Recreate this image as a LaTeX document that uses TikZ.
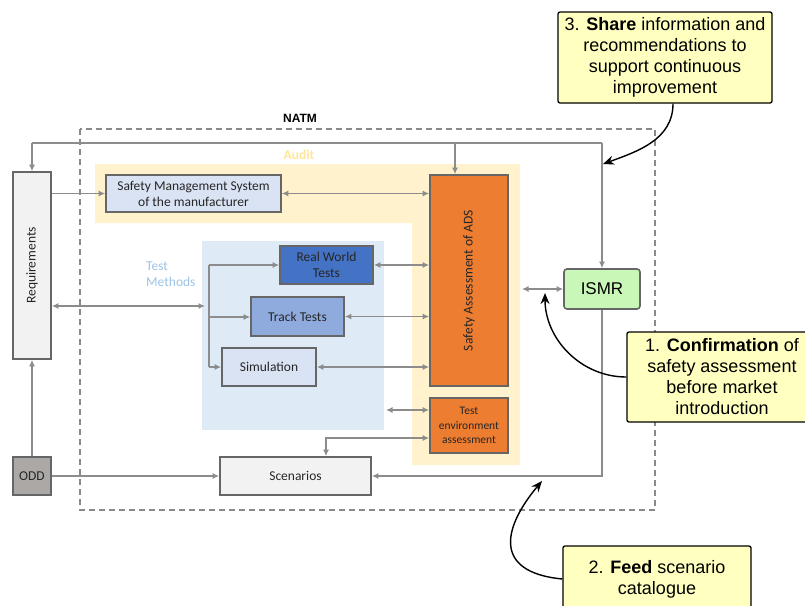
\documentclass[tikz,border=0pt]{standalone}
\usepackage{fontspec}
\usepackage{graphicx}
\setmainfont{Carlito}
\newfontfamily\helv{Liberation Sans}
\usetikzlibrary{arrows.meta}
\definecolor{bordergray}{HTML}{666666}
\definecolor{conngray}{HTML}{8C8C8C}
\definecolor{txt}{HTML}{262626}
\definecolor{reqfill}{HTML}{F2F2F2}
\definecolor{oddfill}{HTML}{ABA8A6}
\definecolor{ltblue}{HTML}{DAE3F3}
\definecolor{rwtfill}{HTML}{4472C4}
\definecolor{ttfill}{HTML}{8FAADC}
\definecolor{orangefill}{HTML}{ED7D31}
\definecolor{auditfill}{HTML}{FFF2CC}
\definecolor{audittext}{HTML}{FFE699}
\definecolor{tmfill}{HTML}{DEEBF7}
\definecolor{tmtext}{HTML}{9DC3E6}
\definecolor{ismrfill}{HTML}{C9F7B8}
\definecolor{callfill}{HTML}{FFFFC0}
\definecolor{dashgray}{HTML}{8A8A8A}
\begin{document}
\begin{tikzpicture}[x=1pt,y=-1pt,
  >={Latex[length=6.5pt,width=6pt]},
  box/.style={draw=bordergray, line width=1.6pt, inner sep=0pt, text=txt,
    font=\fontsize{13.5}{16}\selectfont, align=center},
  conn/.style={draw=conngray, line width=1.6pt},
  callout/.style={draw=black, line width=1.3pt, fill=callfill, rounded corners=2pt,
    inner sep=0pt, align=center, font=\helv\fontsize{18}{21}\selectfont},
  callarrow/.style={draw=black, line width=1.4pt, -{Stealth[length=11pt,width=9pt]}},
  bglabel/.style={inner sep=0pt, font=\fontsize{13.5}{16}\selectfont}
]
\useasboundingbox (0,0) rectangle (805,605);
\clip (0,0) rectangle (805,605);
\fill[white] (0,0) rectangle (805,605);

% backgrounds
\fill[auditfill] (95,164) -- (520,164) -- (520,465) -- (412,465) -- (412,223) -- (95,223) -- cycle;
\fill[tmfill] (202,241) rectangle (384,430);
\draw[dashgray, line width=1.2pt, dash pattern=on 6pt off 4pt] (80,129) rectangle (655,510);

\node[inner sep=0pt, font=\helv\bfseries\fontsize{12}{14}\selectfont] (natm) at (300,118) {NATM};
\node[bglabel, text=audittext, font=\bfseries\fontsize{13.5}{16}\selectfont] (audit) at (299,155) {Audit};
\node[bglabel, text=tmtext, anchor=west, align=left] (tm) at (146,274) {Test\\Methods};

% boxes
\node[box, fill=reqfill, minimum width=38pt, minimum height=187pt] (req) at (32,265.5) {\rotatebox{90}{Requirements}};
\node[box, fill=oddfill, minimum width=38pt, minimum height=38pt] (odd) at (32,476) {ODD};
\node[box, fill=ltblue, minimum width=175pt, minimum height=37pt] (sms) at (193.5,193.5) {Safety Management System\\of the manufacturer};
\node[box, fill=orangefill, minimum width=78pt, minimum height=211pt] (sa) at (469,280.5) {\rotatebox{90}{Safety Assessment of ADS}};
\node[box, fill=orangefill, minimum width=78pt, minimum height=55pt, font=\fontsize{11.5}{14.5}\selectfont] (tea) at (469,425.5) {Test\\environment\\assessment};
\node[box, fill=rwtfill, minimum width=93pt, minimum height=38pt] (rwt) at (326.5,265) {Real World\\Tests};
\node[box, fill=ttfill, minimum width=93pt, minimum height=39pt] (tt) at (297.5,316.5) {Track Tests};
\node[box, fill=ltblue, minimum width=94pt, minimum height=38pt] (sim) at (269,367) {Simulation};
\node[box, fill=reqfill, minimum width=151pt, minimum height=38pt] (scen) at (295.5,476) {Scenarios};
\node[box, fill=ismrfill, rounded corners=3pt, minimum width=76pt, minimum height=40pt, font=\helv\fontsize{17}{20}\selectfont, text=black] (ismr) at (602,289) {ISMR};

% coordinates
\coordinate (tl) at (32,143);
\coordinate (tr) at (602,143);
\coordinate (tsa) at (455,143);
\coordinate (brm) at (205,306);
\coordinate (bt) at (209,265);
\coordinate (bm) at (209,317);
\coordinate (bb) at (209,367);
\coordinate (sx) at (386,410);
\coordinate (sc1) at (326,438);
\coordinate (ia) at (522,289);
\coordinate (br2) at (602,476);

% connectors
\draw[conn] (tl) -- (tr);
\draw[conn,->] (tl) -- (req.north);
\draw[conn,->] (tr) -- (ismr.north);
\draw[conn,->] (tsa) -- (tsa |- sa.north);
\draw[conn,->] (req.east |- sms) -- (sms.west);
\draw[conn,<->] (sms.east) -- (sms.east -| sa.west);
\draw[conn,<->] (req.east |- brm) -- (brm);
\draw[conn] (bt) -- (bb);
\draw[conn,->] (bt) -- (rwt.west);
\draw[conn,->] (bm) -- (bm -| tt.west);
\draw[conn,->] (bb) -- (sim.west);
\draw[conn,<->] (rwt.east) -- (rwt.east -| sa.west);
\draw[conn,<->] (tt.east) -- (tt.east -| sa.west);
\draw[conn,<->] (sim.east) -- (sim.east -| sa.west);
\draw[conn,<->] (sx) -- (sx -| tea.west);
\draw[conn,<->] (sc1 |- scen.north) -- (sc1) -- (sc1 -| tea.west);
\draw[conn,->] (odd.north) -- (req.south);
\draw[conn,->] (odd.east) -- (scen.west);
\draw[conn,<->] (ismr.west) -- (ia);
\draw[conn,->] (ismr.south) -- (br2) -- (br2 -| scen.east);

% callouts
\node[callout, minimum width=214pt, minimum height=91pt] (c3) at (665,57.5) {3. \textbf{Share} information and\\recommendations to\\support continuous\\improvement};
\node[callout, minimum width=190pt, minimum height=90pt] (c1) at (722,377) {1. \textbf{Confirmation} of\\safety assessment\\before market\\introduction};
\node[callout, minimum width=188pt, minimum height=66pt] (c2) at (657,579) {2. \textbf{Feed} scenario\\catalogue};

\coordinate (t3) at (603,164);
\coordinate (t1) at (545,293);
\coordinate (t2) at (542,481);
\draw[callarrow] ([xshift=8pt]c3.south) to[out=-90,in=20] (t3);
\draw[callarrow] (c1.west) to[out=180,in=-90] (t1);
\draw[callarrow] (c2.west) .. controls (490,572) and (505,525) .. (t2);
\end{tikzpicture}
\end{document}
